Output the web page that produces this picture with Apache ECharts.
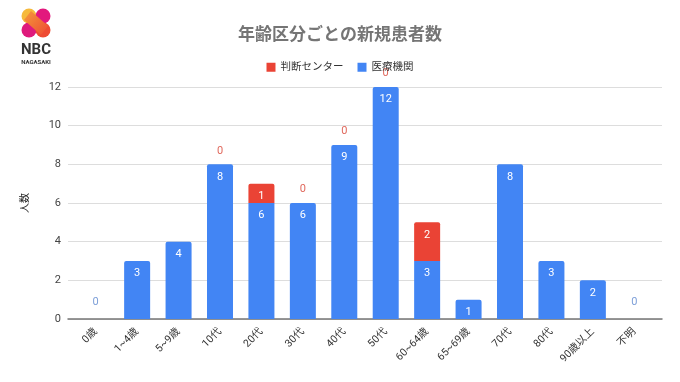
<!DOCTYPE html>
<html><head><meta charset="utf-8">
<script src="https://cdn.jsdelivr.net/npm/echarts@6/dist/echarts.min.js"></script>
<style>html,body{margin:0;padding:0;background:#fff}#c{width:680px;height:382px}</style>
</head><body><div id="c"></div>
<script>
const categories = ['0歳','1~4歳','5~9歳','10代','20代','30代','40代','50代','60~64歳','65~69歳','70代','80代','90歳以上','不明'];
const iryoKikan = [0,3,4,8,6,6,9,12,3,1,8,3,2,0];
const handanCenter = [null,null,null,0,1,0,0,0,2,null,null,null,null,null];
const yTicks = [0,2,4,6,8,10,12];

const FONT = "Roboto, 'Noto Sans CJK JP', sans-serif";
const BLUE = '#4285F4', RED = '#EA4335';

const blueData = iryoKikan.map((v,i) => {
  const hasRedAbove = handanCenter[i] != null && handanCenter[i] > 0;
  const item = { value: v, itemStyle: { borderRadius: hasRedAbove ? 0 : [2,2,0,0] } };
  if (v === 0) item.label = { show: true, position: 'top', distance: 11, color: '#7d9fd8' };
  else item.label = { show: true, position: 'insideTop', distance: 7, color: '#ffffff' };
  return item;
});
const redData = handanCenter.map(v => {
  if (v == null) return { value: null, label: { show: false } };
  if (v === 0) return { value: 0, label: { show: true, position: 'top', distance: 8, color: '#e0685c' } };
  return { value: v, itemStyle: { borderRadius: [2,2,0,0] }, label: { show: true, position: 'insideTop', distance: 7, color: '#ffffff' } };
});

const chart = echarts.init(document.getElementById('c'), null, { renderer: 'canvas' });
chart.setOption({
  animation: false,
  textStyle: { fontFamily: FONT },
  title: {
    text: '年齢区分ごとの新規患者数', left: 'center', top: 22,
    textStyle: { fontSize: 17, fontWeight: 'bold', color: '#757575', fontFamily: FONT }
  },
  legend: {
    top: 57, left: 'center', itemWidth: 9, itemHeight: 9, itemGap: 14,
    icon: 'rect',
    textStyle: { fontSize: 10.5, color: '#333', fontFamily: FONT },
    data: ['判断センター', '医療機関']
  },
  graphic: [
    { type: 'circle', shape: { cx: 29, cy: 16, r: 7.5 }, style: { fill: '#F6B93B' } },
    { type: 'circle', shape: { cx: 43, cy: 16, r: 7.5 }, style: { fill: '#E2187D' } },
    { type: 'circle', shape: { cx: 29, cy: 30, r: 7.5 }, style: { fill: '#DE1A7C' } },
    { type: 'circle', shape: { cx: 43, cy: 30, r: 7.5 }, style: { fill: '#EE4B33' } },
    { type: 'polygon', shape: { points: [[24,20],[31,11],[48,26],[41,35]] },
      style: { fill: new echarts.graphic.LinearGradient(0,0,1,1,[{offset:0,color:'#F49A3A'},{offset:1,color:'#EE4B33'}]) } },
    { type: 'text', style: { text: 'NBC', x: 36, y: 50, align: 'center', verticalAlign: 'middle', font: 'bold 15px Roboto, sans-serif', fill: '#333' } },
    { type: 'text', style: { text: 'NAGASAKI', x: 36, y: 62, align: 'center', verticalAlign: 'middle', font: 'bold 6px Roboto, sans-serif', fill: '#333' } }
  ],
  grid: [
    { left: 75, right: 25, top: 87, bottom: 63 },
    { left: 68, right: 18, top: 87, bottom: 63 }
  ],
  xAxis: [
    { type: 'category', gridIndex: 0, data: categories,
      axisLine: { show: false }, axisTick: { show: false },
      axisLabel: { interval: 0, rotate: 45, fontSize: 10.5, color: '#333', margin: 11, fontFamily: FONT } },
    { type: 'category', gridIndex: 1, data: ['a'],
      axisLine: { show: true, lineStyle: { color: '#757575', width: 1.5 } },
      axisTick: { show: false }, axisLabel: { show: false } }
  ],
  yAxis: [
    { type: 'value', gridIndex: 0, min: 0, max: 12, interval: 2,
      axisLabel: { show: false }, splitLine: { show: false }, axisLine: { show: false }, axisTick: { show: false } },
    { type: 'value', gridIndex: 1, min: 0, max: 12, interval: 2,
      name: '人数', nameLocation: 'middle', nameGap: 38, nameRotate: 90,
      nameTextStyle: { fontSize: 10, color: '#222', fontFamily: FONT },
      axisLabel: { fontSize: 11, color: '#444', margin: 7, fontFamily: FONT },
      axisLine: { show: false }, axisTick: { show: false },
      splitLine: { lineStyle: { color: '#dddddd', width: 1 } },
      data: yTicks }
  ],
  series: [
    { name: '医療機関', type: 'bar', stack: 'total', xAxisIndex: 0, yAxisIndex: 0,
      barWidth: 26, itemStyle: { color: BLUE },
      label: { fontSize: 11, fontFamily: FONT },
      data: blueData },
    { name: '判断センター', type: 'bar', stack: 'total', xAxisIndex: 0, yAxisIndex: 0,
      barWidth: 26, itemStyle: { color: RED },
      label: { fontSize: 11, fontFamily: FONT },
      data: redData }
  ]
});
</script></body></html>
